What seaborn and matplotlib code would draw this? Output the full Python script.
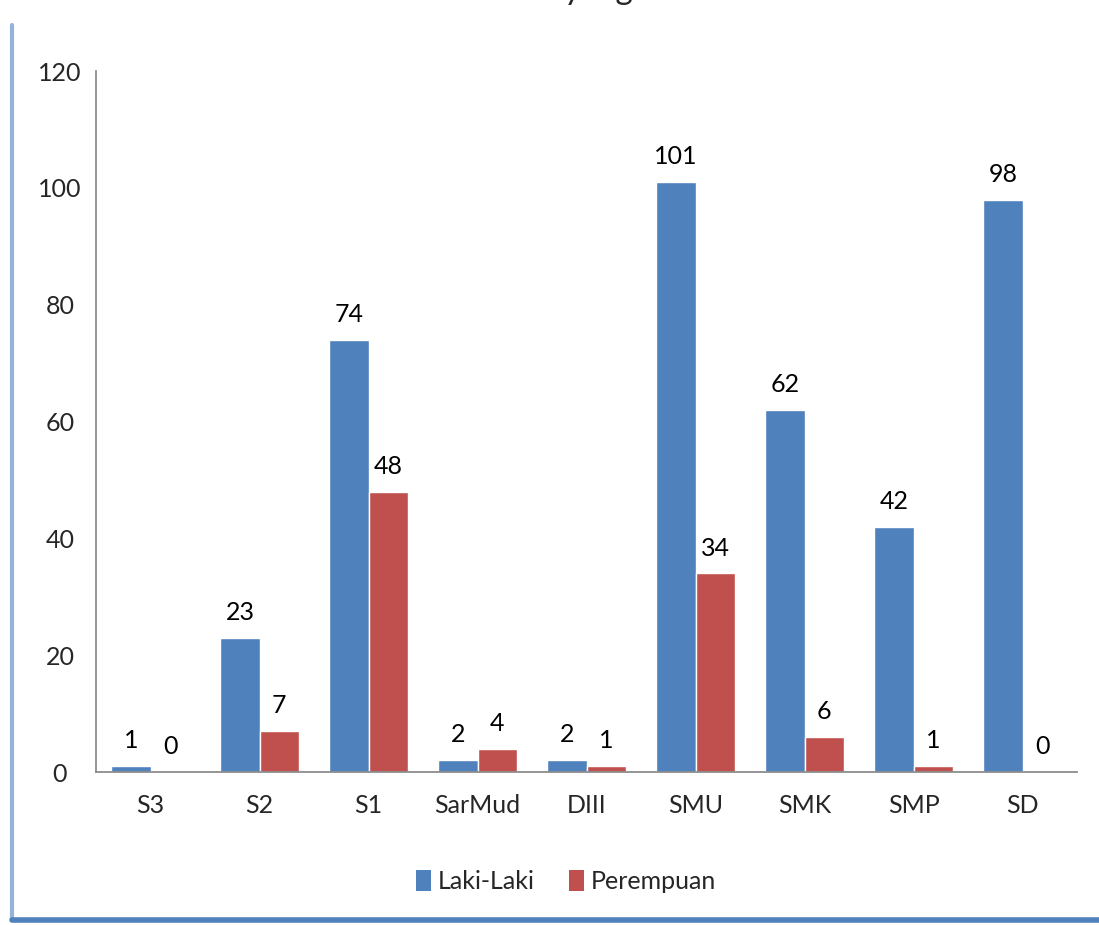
# ============================================================
# Jumlah per tingkat pendidikan - Laki-Laki vs Perempuan
# ============================================================

import pandas as pd
import matplotlib.pyplot as plt
import seaborn as sns
from matplotlib.lines import Line2D
from matplotlib.patches import Patch

# ============================================================
# Data
# ============================================================

categories = ["S3", "S2", "S1", "SarMud", "DIII", "SMU", "SMK", "SMP", "SD"]
laki_laki = [1, 23, 74, 2, 2, 101, 62, 42, 98]
perempuan = [0, 7, 48, 4, 1, 34, 6, 1, 0]
series = ["Laki-Laki", "Perempuan"]
colors = ["#4F81BD", "#C0504D"]
y_ticks = [0, 20, 40, 60, 80, 100, 120]

df = pd.DataFrame({
    "Pendidikan": categories * 2,
    "Jenis": [series[0]] * len(categories) + [series[1]] * len(categories),
    "Jumlah": laki_laki + perempuan,
})

# ============================================================
# Plot
# ============================================================

sns.set_style("white")
plt.rcParams["font.family"] = ["Lato", "DejaVu Sans"]

fig = plt.figure(figsize=(10.99, 9.25), dpi=100)
ax = fig.add_axes([0.0874, 0.1654, 0.8926, 0.7578])

sns.barplot(
    data=df,
    x="Pendidikan",
    y="Jumlah",
    hue="Jenis",
    order=categories,
    hue_order=series,
    palette=colors,
    width=0.72,
    gap=0,
    saturation=1,
    legend=False,
    ax=ax,
)

for container in ax.containers:
    ax.bar_label(container, padding=10, fontsize=18, color="black")

ax.set_ylim(0, 120)
ax.set_yticks(y_ticks)
ax.set_xlim(-0.5, len(categories) - 0.5)
ax.set_xlabel("")
ax.set_ylabel("")
ax.tick_params(axis="y", labelsize=18, length=0, pad=26)
ax.tick_params(axis="x", labelsize=18, length=0, pad=16)
for lbl in ax.get_yticklabels():
    lbl.set_horizontalalignment("center")

sns.despine(ax=ax)
for side in ["left", "bottom"]:
    ax.spines[side].set_color("#8C8C8C")
    ax.spines[side].set_linewidth(1.3)

# legend
handles = [Patch(facecolor=c, edgecolor="none") for c in colors]
fig.legend(
    handles,
    series,
    loc="center",
    bbox_to_anchor=(0.515, 0.047),
    ncol=2,
    frameon=False,
    fontsize=18,
    handlelength=0.6,
    handleheight=0.9,
    handletextpad=0.25,
    columnspacing=1.4,
)

# chart title (cut off at the top edge, only descenders show)
fig.text(0.545, 1 + 1 / 925, "yang", ha="center", va="baseline", fontsize=24)

# frame border of the chart area
fig.add_artist(Line2D([12 / 1099, 12 / 1099], [5 / 925, 900 / 925],
                      transform=fig.transFigure, color="#95B3D7", linewidth=3))
fig.add_artist(Line2D([12 / 1099, 1.0], [5 / 925, 5 / 925],
                      transform=fig.transFigure, color="#4F81BD", linewidth=4))

plt.savefig("out.png", dpi=100)
